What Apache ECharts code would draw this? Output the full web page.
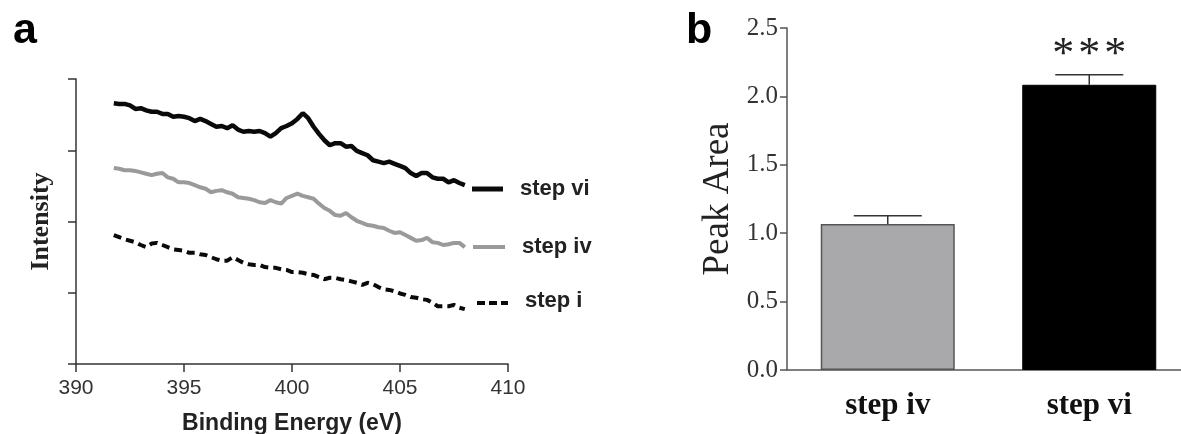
<!DOCTYPE html>
<html>
<head>
<meta charset="utf-8">
<script src="https://cdn.jsdelivr.net/npm/echarts@6/dist/echarts.min.js"></script>
<style>
html,body{margin:0;padding:0;background:#fff;}
#chart{width:1181px;height:434px;}
</style>
</head>
<body>
<div id="chart"></div>
<script>
// ---------- Panel a : XPS spectra (arbitrary intensity units) ----------
const energies = [391.75,392,392.25,392.5,392.75,393,393.25,393.5,393.75,394,394.25,394.5,394.75,395,395.25,395.5,395.75,396,396.25,396.5,396.75,397,397.25,397.5,397.75,398,398.25,398.5,398.75,399,399.25,399.5,399.75,400,400.25,400.5,400.75,401,401.25,401.5,401.75,402,402.25,402.5,402.75,403,403.25,403.5,403.75,404,404.25,404.5,404.75,405,405.25,405.5,405.75,406,406.25,406.5,406.75,407,407.25,407.5,407.75,408];
const stepVi = [3.66,3.65,3.65,3.63,3.58,3.59,3.56,3.54,3.54,3.51,3.51,3.47,3.48,3.47,3.45,3.41,3.44,3.41,3.37,3.33,3.34,3.31,3.35,3.29,3.26,3.27,3.26,3.27,3.24,3.19,3.24,3.31,3.34,3.38,3.44,3.52,3.45,3.33,3.23,3.14,3.07,3.10,3.10,3.05,3.06,2.99,2.96,2.93,2.86,2.84,2.82,2.84,2.81,2.78,2.75,2.68,2.64,2.68,2.68,2.62,2.60,2.60,2.55,2.58,2.54,2.51];
const stepIv = [2.75,2.74,2.72,2.72,2.71,2.69,2.67,2.65,2.67,2.68,2.62,2.60,2.55,2.55,2.54,2.51,2.48,2.46,2.41,2.43,2.44,2.41,2.39,2.34,2.33,2.32,2.30,2.27,2.26,2.30,2.27,2.25,2.33,2.36,2.39,2.36,2.34,2.32,2.25,2.19,2.15,2.09,2.08,2.12,2.06,2.01,1.98,1.95,1.94,1.92,1.91,1.87,1.84,1.85,1.81,1.77,1.73,1.74,1.77,1.71,1.70,1.67,1.68,1.70,1.70,1.64];
const stepI = [1.81,1.78,1.75,1.73,1.71,1.67,1.64,1.69,1.70,1.67,1.64,1.61,1.60,1.59,1.56,1.56,1.54,1.53,1.50,1.47,1.45,1.45,1.50,1.46,1.42,1.40,1.39,1.39,1.36,1.35,1.35,1.33,1.32,1.29,1.29,1.28,1.26,1.25,1.22,1.19,1.21,1.21,1.19,1.18,1.16,1.14,1.11,1.14,1.12,1.08,1.05,1.04,1.02,0.99,0.97,0.94,0.93,0.91,0.90,0.86,0.81,0.81,0.81,0.83,0.79,0.77];
const seriesNamesA = ['step vi','step iv','step i'];
const energyTicks = [390,395,400,405,410];

// ---------- Panel b : peak area ----------
const barCategories = ['step iv','step vi'];
const peakArea = [1.068, 2.085];
const peakAreaErr = [0.06, 0.073];
const significance = [0, 3]; // number of asterisks
const peakTicks = [0,0.5,1.0,1.5,2.0,2.5];

const zip = (xs, ys) => xs.map((x, i) => [x, ys[i]]);

const chart = echarts.init(document.getElementById('chart'), null, {renderer: 'canvas'});

const sans = 'Liberation Sans, Arial, sans-serif';
const serif = 'Liberation Serif, Times New Roman, serif';

const option = {
  animation: false,
  backgroundColor: '#fff',
  grid: [
    {left: 76, top: 79, width: 432, height: 285, outerBoundsMode: 'none', containLabel: false},
    {left: 787, top: 28, width: 403, height: 342, outerBoundsMode: 'none', containLabel: false}
  ],
  xAxis: [
    {
      gridIndex: 0, type: 'value', min: 390, max: 410, interval: 5,
      name: 'Binding Energy (eV)', nameLocation: 'middle', nameGap: 48,
      nameTextStyle: {fontFamily: sans, fontWeight: 'bold', fontSize: 23, color: '#222'},
      axisLine: {lineStyle: {color: '#333', width: 1.5}},
      axisTick: {show: true, length: 8, lineStyle: {color: '#333', width: 1.5}},
      axisLabel: {fontFamily: sans, fontSize: 21, color: '#333', margin: 14,
        customValues: energyTicks},
      splitLine: {show: false}
    },
    {
      gridIndex: 1, type: 'category', data: barCategories,
      axisLine: {lineStyle: {color: '#555', width: 1.5}},
      axisTick: {show: false},
      axisLabel: {fontFamily: serif, fontWeight: 'bold', fontSize: 31, color: '#111', margin: 20},
      splitLine: {show: false}
    }
  ],
  yAxis: [
    {
      gridIndex: 0, type: 'value', min: 0, max: 4, interval: 1,
      name: 'Intensity', nameLocation: 'middle', nameGap: 22,
      nameTextStyle: {fontFamily: serif, fontWeight: 'bold', fontSize: 26, color: '#222'},
      axisLine: {show: true, lineStyle: {color: '#333', width: 1.5}},
      axisTick: {show: true, length: 8, lineStyle: {color: '#333', width: 1.5}},
      axisLabel: {show: false},
      splitLine: {show: false}
    },
    {
      gridIndex: 1, type: 'value', min: 0, max: 2.5, interval: 0.5,
      name: 'Peak Area', nameLocation: 'middle', nameGap: 50,
      nameTextStyle: {fontFamily: serif, fontSize: 37, color: '#222'},
      axisLine: {show: true, lineStyle: {color: '#555', width: 1.5}},
      axisTick: {show: true, length: 7, lineStyle: {color: '#555', width: 1.5}},
      axisLabel: {fontFamily: serif, fontSize: 25, color: '#333', margin: 9,
        customValues: peakTicks, formatter: v => v.toFixed(1)},
      splitLine: {show: false}
    }
  ],
  series: [
    {
      name: seriesNamesA[0], type: 'line', xAxisIndex: 0, yAxisIndex: 0,
      data: zip(energies, stepVi), showSymbol: false, symbol: 'none',
      lineStyle: {color: '#0a0a0a', width: 4.5}
    },
    {
      name: seriesNamesA[1], type: 'line', xAxisIndex: 0, yAxisIndex: 0,
      data: zip(energies, stepIv), showSymbol: false, symbol: 'none',
      lineStyle: {color: '#9a9a9a', width: 4}
    },
    {
      name: seriesNamesA[2], type: 'line', xAxisIndex: 0, yAxisIndex: 0,
      data: zip(energies, stepI), showSymbol: false, symbol: 'none',
      lineStyle: {color: '#0a0a0a', width: 4, type: [8, 5]}
    },
    {
      name: 'Peak Area', type: 'bar', xAxisIndex: 1, yAxisIndex: 1,
      barWidth: 134,
      data: peakArea.map((v, i) => ({
        value: v,
        itemStyle: i === 0
          ? {color: '#a9a9ac', borderColor: '#555', borderWidth: 1.5}
          : {color: '#000', borderColor: '#000', borderWidth: 1}
      }))
    },
    {
      name: 'error', type: 'custom', xAxisIndex: 1, yAxisIndex: 1, z: 5,
      data: peakArea.map((v, i) => [i, v, peakAreaErr[i]]),
      renderItem: function (params, api) {
        const idx = api.value(0);
        const base = api.coord([idx, api.value(1)]);
        const top = api.coord([idx, api.value(1) + api.value(2)]);
        const half = 34;
        const style = {stroke: '#333', lineWidth: 1.5};
        const children = [
          {type: 'line', shape: {x1: base[0], y1: base[1], x2: top[0], y2: top[1]}, style},
          {type: 'line', shape: {x1: top[0] - half, y1: top[1], x2: top[0] + half, y2: top[1]}, style}
        ];
        const n = significance[params.dataIndex];
        for (let k = 0; k < n; k++) {
          children.push({
            type: 'text',
            style: {text: '*', x: top[0] + (k - (n - 1) / 2) * 26, y: top[1] + 3,
              align: 'center', verticalAlign: 'bottom',
              font: '44px ' + serif, fill: '#222'}
          });
        }
        return {type: 'group', children};
      }
    }
  ],
  graphic: [
    {type: 'text', left: 13, top: 10, style: {text: 'a', font: 'bold 43px ' + sans, fill: '#000'}},
    {type: 'text', left: 686, top: 10, style: {text: 'b', font: 'bold 43px ' + sans, fill: '#000'}},
    // inline legend for panel a
    {type: 'line', shape: {x1: 472, y1: 189, x2: 503, y2: 189}, style: {stroke: '#0a0a0a', lineWidth: 5}},
    {type: 'text', x: 520, y: 189, style: {text: seriesNamesA[0], font: 'bold 22px ' + sans, fill: '#222', verticalAlign: 'middle'}},
    {type: 'line', shape: {x1: 473, y1: 247, x2: 505, y2: 247}, style: {stroke: '#9a9a9a', lineWidth: 4}},
    {type: 'text', x: 522, y: 247, style: {text: seriesNamesA[1], font: 'bold 22px ' + sans, fill: '#222', verticalAlign: 'middle'}},
    {type: 'line', shape: {x1: 477, y1: 303, x2: 508, y2: 303}, style: {stroke: '#0a0a0a', lineWidth: 4, lineDash: [8, 4]}},
    {type: 'text', x: 525, y: 301, style: {text: seriesNamesA[2], font: 'bold 22px ' + sans, fill: '#222', verticalAlign: 'middle'}}
  ]
};
chart.setOption(option);
</script>
</body>
</html>
